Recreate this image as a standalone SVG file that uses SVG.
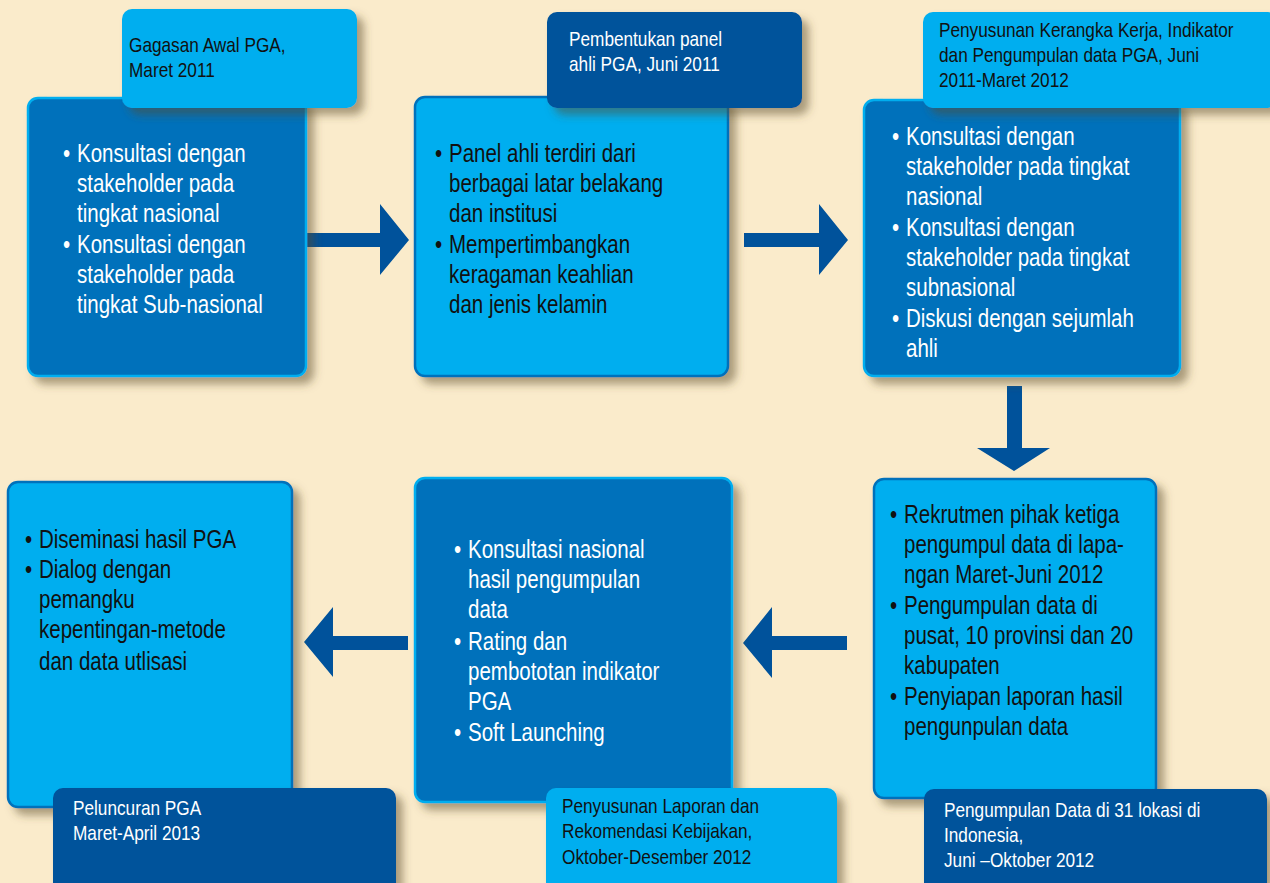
<svg xmlns="http://www.w3.org/2000/svg" width="1270" height="883" viewBox="0 0 1270 883">
<defs>
<filter id="sh" x="-10%" y="-10%" width="130%" height="130%">
<feDropShadow dx="7" dy="7" stdDeviation="4" flood-color="#5a4a2a" flood-opacity="0.5"/>
</filter>
<style>
.bg{fill:#FAEBCB}
.bd{fill:#0071BB;stroke:#00AEEF;stroke-width:2.5}
.bl{fill:#00AEEF;stroke:#0071BB;stroke-width:2.5}
.ld{fill:#00529B}
.ll{fill:#00AEEF}
.arr{fill:#00529B}
text{font-family:"Liberation Sans Narrow","Liberation Sans",Arial,sans-serif}
.t{font-size:25px}
.s{font-size:21px}
.w{fill:#ffffff}
.k{fill:#111111}
</style>
</defs>
<rect class="bg" x="0" y="0" width="1270" height="883"/>

<g id="connectors">
<polygon class="arr" points="306,233 380,233 380,204 409,240 380,275 380,247 306,247"/>
<polygon class="arr" points="744,233 819,233 819,204 848,240 819,275 819,247 744,247"/>
<polygon class="arr" points="1007,386 1022,386 1022,448 1050,448 1014,471 977,448 1007,448"/>
<polygon class="arr" points="847,636 772,636 772,607 743,643 772,678 772,650 847,650"/>
<polygon class="arr" points="408,636 333,636 333,607 304,642 333,677 333,650 408,650"/>
</g>

<g id="step1">
<rect class="bd" x="28" y="98" width="278" height="278" rx="10" filter="url(#sh)"/>
<rect class="ll" x="122" y="9" width="235" height="99" rx="10" filter="url(#sh)"/>
<g class="s k" transform="matrix(0.82 0 0 1 129 0)">
<text x="0" y="52">Gagasan Awal PGA,</text>
<text x="0" y="77">Maret 2011</text>
</g>
<g class="t w" transform="matrix(0.82 0 0 1 77 0)">
<text x="-17" y="162">•</text><text x="0" y="162">Konsultasi dengan</text>
<text x="0" y="192">stakeholder pada</text>
<text x="0" y="222">tingkat nasional</text>
<text x="-17" y="253">•</text><text x="0" y="253">Konsultasi dengan</text>
<text x="0" y="283">stakeholder pada</text>
<text x="0" y="313">tingkat Sub-nasional</text>
</g>
</g>

<g id="step2">
<rect class="bl" x="415" y="97" width="313" height="279" rx="10" filter="url(#sh)"/>
<rect class="ld" x="547" y="12" width="255" height="96" rx="10" filter="url(#sh)"/>
<g class="s w" transform="matrix(0.82 0 0 1 569 0)">
<text x="0" y="46">Pembentukan panel</text>
<text x="0" y="71">ahli PGA, Juni 2011</text>
</g>
<g class="t k" transform="matrix(0.82 0 0 1 449 0)">
<text x="-17" y="162">•</text><text x="0" y="162">Panel ahli terdiri dari</text>
<text x="0" y="192">berbagai latar belakang</text>
<text x="0" y="222">dan institusi</text>
<text x="-17" y="253">•</text><text x="0" y="253">Mempertimbangkan</text>
<text x="0" y="283">keragaman keahlian</text>
<text x="0" y="313">dan jenis kelamin</text>
</g>
</g>

<g id="step3">
<rect class="bd" x="864" y="100" width="316" height="276" rx="10" filter="url(#sh)"/>
<rect class="ll" x="923" y="12" width="355" height="96" rx="10" filter="url(#sh)"/>
<g class="s k" transform="matrix(0.82 0 0 1 939 0)">
<text x="0" y="37">Penyusunan Kerangka Kerja, Indikator</text>
<text x="0" y="62">dan Pengumpulan data PGA, Juni</text>
<text x="0" y="87">2011-Maret 2012</text>
</g>
<g class="t w" transform="matrix(0.82 0 0 1 906 0)">
<text x="-17" y="145">•</text><text x="0" y="145">Konsultasi dengan</text>
<text x="0" y="175">stakeholder pada tingkat</text>
<text x="0" y="205">nasional</text>
<text x="-17" y="236">•</text><text x="0" y="236">Konsultasi dengan</text>
<text x="0" y="266">stakeholder pada tingkat</text>
<text x="0" y="296">subnasional</text>
<text x="-17" y="327">•</text><text x="0" y="327">Diskusi dengan sejumlah</text>
<text x="0" y="357">ahli</text>
</g>
</g>

<g id="step4">
<rect class="bl" x="874" y="479" width="282" height="319" rx="10" filter="url(#sh)"/>
<rect class="ld" x="924" y="789" width="343" height="110" rx="10" filter="url(#sh)"/>
<g class="s w" transform="matrix(0.82 0 0 1 944 0)">
<text x="0" y="817">Pengumpulan Data di 31 lokasi di</text>
<text x="0" y="842">Indonesia,</text>
<text x="0" y="867">Juni –Oktober 2012</text>
</g>
<g class="t k" transform="matrix(0.82 0 0 1 904 0)">
<text x="-17" y="523">•</text><text x="0" y="523">Rekrutmen pihak ketiga</text>
<text x="0" y="553">pengumpul data di lapa-</text>
<text x="0" y="583">ngan Maret-Juni 2012</text>
<text x="-17" y="614">•</text><text x="0" y="614">Pengumpulan data di</text>
<text x="0" y="644">pusat, 10 provinsi dan 20</text>
<text x="0" y="674">kabupaten</text>
<text x="-17" y="705">•</text><text x="0" y="705">Penyiapan laporan hasil</text>
<text x="0" y="735">pengunpulan data</text>
</g>
</g>

<g id="step5">
<rect class="bd" x="415" y="478" width="317" height="324" rx="10" filter="url(#sh)"/>
<rect class="ll" x="546" y="788" width="291" height="110" rx="10" filter="url(#sh)"/>
<g class="s k" transform="matrix(0.82 0 0 1 562 0)">
<text x="0" y="813">Penyusunan Laporan dan</text>
<text x="0" y="838">Rekomendasi Kebijakan,</text>
<text x="0" y="864">Oktober-Desember 2012</text>
</g>
<g class="t w" transform="matrix(0.82 0 0 1 468 0)">
<text x="-17" y="558">•</text><text x="0" y="558">Konsultasi nasional</text>
<text x="0" y="588">hasil pengumpulan</text>
<text x="0" y="618">data</text>
<text x="-17" y="650">•</text><text x="0" y="650">Rating dan</text>
<text x="0" y="680">pembototan indikator</text>
<text x="0" y="710">PGA</text>
<text x="-17" y="741">•</text><text x="0" y="741">Soft Launching</text>
</g>
</g>

<g id="step6">
<rect class="bl" x="8" y="482" width="284" height="325" rx="10" filter="url(#sh)"/>
<rect class="ld" x="53" y="788" width="343" height="110" rx="10" filter="url(#sh)"/>
<g class="s w" transform="matrix(0.82 0 0 1 73 0)">
<text x="0" y="815">Peluncuran PGA</text>
<text x="0" y="840">Maret-April 2013</text>
</g>
<g class="t k" transform="matrix(0.82 0 0 1 39 0)">
<text x="-17" y="548">•</text><text x="0" y="548">Diseminasi hasil PGA</text>
<text x="-17" y="578">•</text><text x="0" y="578">Dialog dengan</text>
<text x="0" y="608">pemangku</text>
<text x="0" y="638">kepentingan-metode</text>
<text x="0" y="670">dan data utlisasi</text>
</g>
</g>
</svg>
